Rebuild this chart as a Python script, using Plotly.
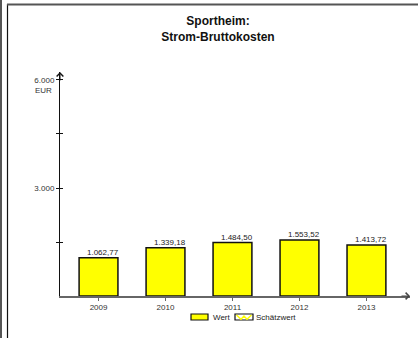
import plotly.graph_objects as go

# Daten
jahre = ["2009", "2010", "2011", "2012", "2013"]
wert = [1062.77, 1339.18, 1484.50, 1553.52, 1413.72]
y_tickvals = [1500, 3000, 4500, 6000]
y_ticktext = ["", "3.000", "", "6.000"]
legende = ["Wert", "Schätzwert"]

W, H = 418, 338
L, R, T, B = 60, 410, 72, 296  # Plotbereich in Pixeln


def de(v):
    return f"{v:,.2f}".replace(",", "X").replace(".", ",").replace("X", ".")


def px(x):
    return (x - L) / (R - L)


def py(y):
    return (B - y) / (B - T)


FONT = "Liberation Sans, Arial, sans-serif"

fig = go.Figure()
fig.add_trace(go.Bar(
    x=jahre, y=wert, name=legende[0], width=0.58, showlegend=False,
    marker=dict(color="#ffff00", line=dict(color="#111", width=1.5)),
))
# unsichtbare Spur, damit die zweite y-Achse (Innen-Ticks) gezeichnet wird
fig.add_trace(go.Scatter(x=[], y=[], yaxis="y2", showlegend=False, hoverinfo="skip"))

# Wertbeschriftungen (Kategorie-Index als x-Position)
for i, v in enumerate(wert):
    fig.add_annotation(x=i, y=v, xref="x", yref="y", text=de(v), showarrow=False,
                       yanchor="bottom", xshift=4.5, yshift=-1, font=dict(size=8, color="#222"))

fig.update_layout(
    width=W, height=H,
    margin=dict(l=L, r=W - R, t=T, b=H - B, autoexpand=False),
    paper_bgcolor="white", plot_bgcolor="white",
    barmode="overlay", showlegend=False,
    font=dict(family=FONT, size=8, color="#333"),
    title=dict(text="<b>Sportheim:<br>Strom-Bruttokosten</b>",
               font=dict(family=FONT, size=12, color="#111"),
               x=218 / W, xanchor="center", xref="container",
               y=1 - 25 / H, yanchor="top", yref="container"),
    xaxis=dict(type="category", range=[-0.575, 4.65], showline=True, linecolor="#666",
               linewidth=1.5, ticks="outside", ticklen=3, tickcolor="#666", showgrid=False,
               tickfont=dict(size=8, color="#333")),
    yaxis=dict(range=[0, 6222], showline=True, linecolor="#111", linewidth=1,
               tickvals=y_tickvals, ticktext=y_ticktext,
               ticks="outside", ticklen=3, tickcolor="#111", showgrid=False,
               zeroline=False, tickfont=dict(size=8, color="#333")),
    yaxis2=dict(range=[0, 6222], overlaying="y", side="left", tickvals=y_tickvals,
                ticks="inside", ticklen=3, tickcolor="#111", showticklabels=False,
                showgrid=False, showline=False, zeroline=False),
)

# Einheit unter dem obersten Tick
fig.add_annotation(text="EUR", x=0, xref="paper", y=6000, yref="y", xanchor="right",
                   xshift=-6, yshift=-11, showarrow=False, font=dict(size=8, color="#333"))

# Pfeilspitzen an den Achsen
fig.add_annotation(x=0, y=1, xref="paper", yref="paper", ax=0, ay=10, text="",
                   showarrow=True, arrowhead=4, arrowsize=1.3, arrowwidth=1, arrowcolor="#111")
fig.add_annotation(x=1, y=0, xref="paper", yref="paper", ax=-10, ay=0, text="",
                   showarrow=True, arrowhead=4, arrowsize=1.3, arrowwidth=1, arrowcolor="#444")

# Legende
fig.add_shape(type="rect", xref="paper", yref="paper", x0=px(191), x1=px(208), y0=py(314), y1=py(320),
              fillcolor="#ffff00", line=dict(color="#111", width=1.2))
fig.add_annotation(text=legende[0], xref="paper", yref="paper", x=px(211), y=py(317.5),
                   xanchor="left", yanchor="middle", showarrow=False, font=dict(size=8, color="#222"))
fig.add_shape(type="rect", xref="paper", yref="paper", x0=px(235), x1=px(253), y0=py(314), y1=py(320),
              fillcolor="#ffffff", line=dict(color="#111", width=1.2))
zz = [(236.5, 315), (241, 319.2), (244, 316), (247, 319.2), (251.5, 315)]
fig.add_shape(type="path", xref="paper", yref="paper",
              path="M" + " L".join(f"{px(a):.4f},{py(b):.4f}" for a, b in zz),
              line=dict(color="#ffff00", width=1.5))
fig.add_annotation(text=legende[1], xref="paper", yref="paper", x=px(254), y=py(317.5),
                   xanchor="left", yanchor="middle", showarrow=False, font=dict(size=8, color="#222"))

# Rahmen
fig.add_shape(type="line", xref="paper", yref="paper", x0=px(1), x1=px(1), y0=py(0), y1=py(H),
              line=dict(color="#555", width=2))
fig.add_shape(type="line", xref="paper", yref="paper", x0=px(7.5), x1=px(7.5), y0=py(4), y1=py(H),
              line=dict(color="#111", width=1.2))
fig.add_shape(type="line", xref="paper", yref="paper", x0=px(7), x1=px(W), y0=py(4.5), y1=py(4.5),
              line=dict(color="#555", width=2))

fig.write_html("out.html", config={"displayModeBar": False},
               post_script="document.body.style.margin='0';document.body.style.overflow='hidden';")
